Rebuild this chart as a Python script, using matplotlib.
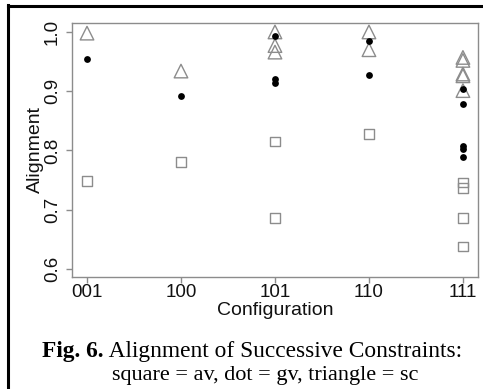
import matplotlib.pyplot as plt
from matplotlib.lines import Line2D

# configurations on the x axis
configs = ['001', '100', '101', '110', '111']

# av (open squares)
av_cfg = ['001', '100', '101', '101', '110', '111', '111', '111', '111']
av_val = [0.748, 0.781, 0.815, 0.686, 0.828, 0.746, 0.736, 0.686, 0.638]

# gv (black dots)
gv_cfg = ['001', '100', '101', '101', '101', '110', '110', '111', '111', '111', '111', '111']
gv_val = [0.954, 0.892, 0.994, 0.920, 0.914, 0.985, 0.927, 0.904, 0.878, 0.808, 0.803, 0.789]

# sc (open triangles)
sc_cfg = ['001', '100', '101', '101', '101', '110', '110', '111', '111', '111', '111', '111']
sc_val = [0.998, 0.934, 1.0, 0.977, 0.966, 1.0, 0.970, 0.957, 0.952, 0.929, 0.926, 0.901]

yticks = [0.6, 0.7, 0.8, 0.9, 1.0]


def pos(cfgs):
    return [configs.index(c) + 1 for c in cfgs]


plt.rcParams['font.family'] = ['Liberation Sans', 'DejaVu Sans']

fig = plt.figure(figsize=(4.83, 3.89), dpi=100)
ax = fig.add_axes([0.149, 0.288, 0.8406, 0.653])

grey = '#8c8c8c'
ax.scatter(pos(av_cfg), av_val, marker='s', s=50, facecolors='none',
           edgecolors=grey, linewidths=1.0, zorder=3)
ax.scatter(pos(sc_cfg), sc_val, marker='^', s=95, facecolors='none',
           edgecolors=grey, linewidths=1.0, zorder=3)
ax.scatter(pos(gv_cfg), gv_val, marker='o', s=24, color='black',
           linewidths=0, zorder=4)

ax.set_xlim(0.84, 5.16)
ax.set_ylim(0.5865, 1.0152)
ax.set_xticks(range(1, len(configs) + 1))
ax.set_xticklabels(configs)
ax.set_yticks(yticks)
ax.set_yticklabels(['%.1f' % v for v in yticks], rotation=90, va='center')

for sp in ax.spines.values():
    sp.set_color(grey)
    sp.set_linewidth(1.0)
ax.tick_params(axis='both', colors=grey, labelcolor='#111111', labelsize=13.5,
               length=4, width=1.0)
ax.tick_params(axis='x', pad=1)
ax.tick_params(axis='y', pad=4)

ax.set_xlabel('Configuration', fontsize=14, labelpad=1, color='#111111')
ax.set_ylabel('Alignment', fontsize=14, labelpad=0, color='#111111')

# caption with bold "Fig. 6."
fig.canvas.draw()
r = fig.canvas.get_renderer()
serif = ['Liberation Serif', 'DejaVu Serif']
t1 = fig.text(0, 0, 'Fig. 6.', fontsize=16.8, fontweight='bold', family=serif,
              va='baseline')
t2 = fig.text(0, 0, ' Alignment of Successive Constraints:', fontsize=16.8,
              family=serif, va='baseline')
w1 = t1.get_window_extent(r).width
w2 = t2.get_window_extent(r).width
W = fig.bbox.width
x0 = (252 - (w1 + w2) / 2) / W
y1 = 1 - 357 / 389
t1.set_position((x0, y1))
t2.set_position((x0 + w1 / W, y1))
fig.text(265.5 / 483, 1 - 380 / 389, 'square = av, dot = gv, triangle = sc',
         fontsize=16, family=serif, ha='center', va='baseline')

# black frame around figure (left and top visible)
fig.add_artist(Line2D([8 / 483, 8 / 483], [0, 1 - 5 / 389], transform=fig.transFigure,
                      color='black', linewidth=2.2))
fig.add_artist(Line2D([8 / 483, 1], [1 - 6 / 389, 1 - 6 / 389], transform=fig.transFigure,
                      color='black', linewidth=2.2))

fig.savefig('out.png', dpi=100)
